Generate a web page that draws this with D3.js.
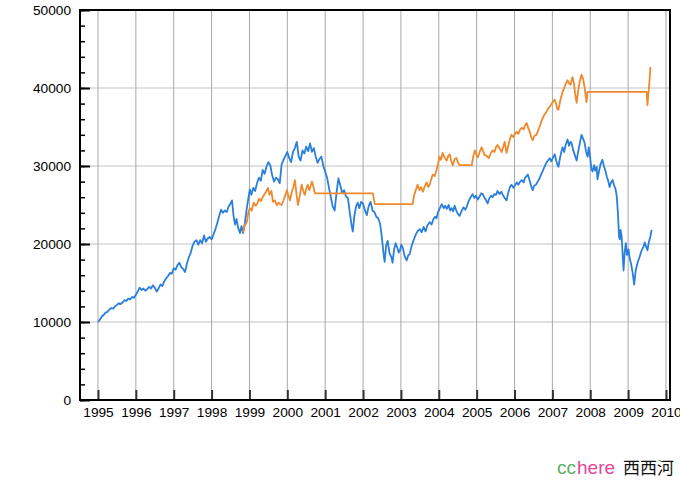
<!DOCTYPE html>
<html><head><meta charset="utf-8">
<script src="https://cdn.jsdelivr.net/npm/d3@7"></script>
<style>body{margin:0;background:#fff} svg{display:block}</style>
</head><body><svg id="c" width="680" height="480"></svg>
<script>
const yearTicks = d3.range(1995, 2011);
const valueTicks = [0, 10000, 20000, 30000, 40000, 50000];
const minorValueTicks = d3.range(0, 50001, 2000);

const blueSeries = [
[1995.00,10000],[1995.05,10300],[1995.10,10700],[1995.15,10900],[1995.20,11200],[1995.25,11300],[1995.30,11600],[1995.35,11800],[1995.40,11700],[1995.45,12000],[1995.50,12200],[1995.55,12400],[1995.60,12300],[1995.65,12500],[1995.70,12800],[1995.75,12700],[1995.80,13000],[1995.85,12900],[1995.90,13200],[1995.95,13100],
[1996.00,13500],[1996.05,13900],[1996.10,14400],[1996.15,14100],[1996.20,14300],[1996.25,14000],[1996.30,14200],[1996.35,14500],[1996.40,14300],[1996.45,14700],[1996.50,14400],[1996.55,13900],[1996.60,14300],[1996.65,14800],[1996.70,14600],[1996.75,15200],[1996.80,15600],[1996.85,15900],[1996.90,16300],[1996.95,16200],
[1997.00,16900],[1997.05,16700],[1997.10,17300],[1997.15,17600],[1997.20,17000],[1997.25,16800],[1997.30,16400],[1997.35,17500],[1997.40,18300],[1997.45,18900],[1997.50,19800],[1997.55,20300],[1997.60,20500],[1997.65,19900],[1997.70,20500],[1997.75,20100],[1997.80,21100],[1997.85,20300],[1997.90,20700],[1997.95,20900],
[1998.00,20600],[1998.05,21200],[1998.10,21900],[1998.15,22700],[1998.20,23600],[1998.25,24400],[1998.30,24000],[1998.35,24300],[1998.40,24100],[1998.45,24800],[1998.50,25200],[1998.54,25600],[1998.58,23600],[1998.62,22500],[1998.66,23200],[1998.70,22100],[1998.75,21400],[1998.79,22300],[1998.83,21400],[1998.88,22700],[1998.93,24600],[1998.97,25800],
[1999.01,27000],[1999.05,26300],[1999.10,27200],[1999.15,26800],[1999.20,27800],[1999.25,28500],[1999.30,28100],[1999.35,29500],[1999.40,29000],[1999.45,29900],[1999.50,30500],[1999.55,30100],[1999.60,28800],[1999.65,28000],[1999.70,28500],[1999.75,28300],[1999.80,27800],[1999.85,30200],[1999.90,30800],[1999.95,31300],
[2000.00,31800],[2000.05,31000],[2000.10,30500],[2000.15,31800],[2000.20,32300],[2000.25,33100],[2000.30,31200],[2000.35,30700],[2000.40,32000],[2000.45,31600],[2000.50,32500],[2000.55,31900],[2000.60,32900],[2000.65,31800],[2000.70,32300],[2000.75,31200],[2000.80,30400],[2000.85,30900],[2000.90,31200],[2000.95,30000],
[2001.00,29300],[2001.05,28500],[2001.10,27200],[2001.15,26000],[2001.20,24800],[2001.25,24300],[2001.30,26600],[2001.35,28400],[2001.40,27500],[2001.45,26500],[2001.50,26900],[2001.55,26100],[2001.60,25900],[2001.65,24000],[2001.70,22300],[2001.73,21600],[2001.77,23600],[2001.82,24900],[2001.86,25300],[2001.90,24600],[2001.95,25400],
[2002.00,25200],[2002.05,24300],[2002.10,23700],[2002.15,24900],[2002.20,25400],[2002.25,24300],[2002.30,24100],[2002.35,23500],[2002.40,23300],[2002.45,22600],[2002.50,20700],[2002.54,18800],[2002.57,17700],[2002.61,19800],[2002.65,20400],[2002.70,18800],[2002.75,18300],[2002.78,17600],[2002.82,19300],[2002.86,20100],[2002.90,19600],[2002.94,18900],[2002.97,19100],
[2003.01,19900],[2003.05,19500],[2003.10,18400],[2003.15,17900],[2003.19,18500],[2003.23,18700],[2003.28,19700],[2003.32,20300],[2003.36,20800],[2003.40,21300],[2003.45,21700],[2003.50,21900],[2003.55,21500],[2003.60,22200],[2003.65,21600],[2003.70,22400],[2003.76,22800],[2003.81,22500],[2003.86,23200],[2003.90,23500],[2003.94,23300],[2003.98,24100],
[2004.03,24600],[2004.08,25100],[2004.13,24600],[2004.17,24900],[2004.21,24500],[2004.26,25000],[2004.30,24300],[2004.34,24600],[2004.38,24200],[2004.42,24900],[2004.46,24300],[2004.50,23900],[2004.55,23600],[2004.60,24200],[2004.65,24700],[2004.70,24400],[2004.74,24800],[2004.78,25400],[2004.83,25900],[2004.89,26400],[2004.94,25900],[2004.98,26200],
[2005.03,25700],[2005.08,26100],[2005.12,26500],[2005.16,26400],[2005.21,25900],[2005.25,25600],[2005.29,25200],[2005.33,25800],[2005.38,26200],[2005.42,26000],[2005.47,26400],[2005.51,26300],[2005.55,26800],[2005.60,26400],[2005.65,26700],[2005.69,26300],[2005.74,25900],[2005.79,25600],[2005.83,26500],[2005.88,27300],[2005.92,27600],[2005.97,27200],
[2006.01,27500],[2006.06,27900],[2006.10,27600],[2006.15,28000],[2006.19,28200],[2006.24,27900],[2006.28,28500],[2006.32,28700],[2006.35,28900],[2006.39,28300],[2006.44,27400],[2006.48,26900],[2006.52,27500],[2006.57,27600],[2006.61,28000],[2006.66,28400],[2006.70,28900],[2006.74,29300],[2006.79,29900],[2006.84,30400],[2006.88,30700],[2006.93,31000],[2006.97,30600],
[2007.02,31100],[2007.06,31500],[2007.10,30700],[2007.13,30200],[2007.16,29900],[2007.20,31000],[2007.24,31900],[2007.27,32400],[2007.31,31800],[2007.35,32700],[2007.40,33400],[2007.44,32600],[2007.48,33100],[2007.51,32900],[2007.55,32000],[2007.60,31300],[2007.64,30700],[2007.68,31800],[2007.72,32800],[2007.77,34000],[2007.81,33500],[2007.85,33000],[2007.89,31800],[2007.93,31200],[2007.96,32400],
[2008.00,31000],[2008.03,29600],[2008.06,29300],[2008.10,30100],[2008.13,29400],[2008.17,29900],[2008.19,28300],[2008.23,29300],[2008.27,30200],[2008.32,30800],[2008.36,30000],[2008.40,29400],[2008.44,28600],[2008.48,28000],[2008.51,27300],[2008.55,27900],[2008.59,28200],[2008.63,27500],[2008.67,27000],[2008.70,26100],[2008.73,24000],[2008.76,21000],[2008.78,20600],[2008.80,21800],[2008.83,20900],[2008.86,18200],[2008.88,16600],[2008.91,19000],[2008.94,20100],[2008.97,18600],
[2009.01,19300],[2009.04,18200],[2009.08,17400],[2009.12,16300],[2009.16,14800],[2009.20,16600],[2009.25,17600],[2009.30,18300],[2009.35,19100],[2009.40,19600],[2009.44,20200],[2009.48,19600],[2009.51,19200],[2009.55,20300],[2009.59,21000],[2009.62,21800]
];

const orangeSeries = [
[1998.83,21500],[1998.87,22300],[1998.93,22800],[1998.97,24000],[1999.01,24600],[1999.06,24300],[1999.11,25300],[1999.16,24900],[1999.20,25100],[1999.25,25800],[1999.30,25500],[1999.35,26000],[1999.40,26400],[1999.45,26800],[1999.49,27200],[1999.53,26300],[1999.58,26800],[1999.62,25400],[1999.67,25600],[1999.72,25000],[1999.77,25300],[1999.81,25100],[1999.85,25000],[1999.90,25600],[1999.95,26300],[1999.99,26900],
[2000.03,26200],[2000.07,25600],[2000.12,26700],[2000.16,27300],[2000.20,28200],[2000.24,26500],[2000.28,25000],[2000.33,26200],[2000.38,27600],[2000.42,26800],[2000.46,26300],[2000.50,27100],[2000.54,27600],[2000.58,26900],[2000.62,27500],[2000.65,28000],[2000.69,27300],[2000.73,26500],
[2002.26,26500],[2002.31,25100],[2003.31,25100],[2003.35,26300],[2003.40,27000],[2003.44,27600],[2003.49,26900],[2003.53,27300],[2003.58,26700],[2003.63,27400],[2003.68,27900],[2003.72,27300],[2003.76,27600],[2003.80,28300],[2003.84,28900],[2003.89,28700],[2003.94,29500],[2003.98,30300],
[2004.02,31200],[2004.06,30800],[2004.10,31700],[2004.15,31100],[2004.21,30700],[2004.25,31300],[2004.29,31500],[2004.33,30600],[2004.37,30100],[2004.42,30900],[2004.47,31000],[2004.51,30400],[2004.55,30100],[2004.87,30100],[2004.91,31200],[2004.95,32000],[2004.99,31500],
[2005.03,31100],[2005.08,31800],[2005.13,32400],[2005.17,31900],[2005.21,31400],[2005.27,31300],[2005.32,31000],[2005.37,31600],[2005.42,32000],[2005.47,31800],[2005.51,32400],[2005.55,32700],[2005.60,32300],[2005.66,31800],[2005.70,32400],[2005.74,33100],[2005.79,31700],[2005.83,32500],[2005.88,33500],[2005.92,34000],[2005.97,33700],
[2006.01,34100],[2006.06,34400],[2006.10,34100],[2006.15,34700],[2006.19,34900],[2006.24,34700],[2006.28,35200],[2006.32,35500],[2006.36,34900],[2006.40,34400],[2006.44,33700],[2006.48,33300],[2006.53,33900],[2006.58,34000],[2006.62,34500],[2006.66,35000],[2006.70,35600],[2006.75,36200],[2006.79,36600],[2006.84,36900],[2006.88,37300],[2006.93,37600],[2006.97,37900],
[2007.02,38300],[2007.06,38500],[2007.10,37900],[2007.13,37300],[2007.16,37200],[2007.20,38200],[2007.24,39000],[2007.27,39500],[2007.31,40000],[2007.35,40500],[2007.40,41000],[2007.44,40600],[2007.48,40400],[2007.51,41000],[2007.53,41400],[2007.57,40600],[2007.60,39300],[2007.64,38100],[2007.68,39600],[2007.72,40800],[2007.77,41700],[2007.81,41200],[2007.85,40100],[2007.88,39000],[2007.90,38200],[2007.93,39500],
[2009.49,39500],[2009.51,37800],[2009.55,40000],[2009.59,42700]
];

const L = 80, T = 10, R = 670, B = 400;
const svg = d3.select("#c");
const x = d3.scaleLinear().domain([1994.525, 2010.106]).range([L, R]);
const y = d3.scaleLinear().domain([0, 50000]).range([B, T]);
const font = "'Liberation Sans', Arial, Helvetica, sans-serif";

// grid
svg.append("g").selectAll("line").data(valueTicks.filter(v => v > 0 && v < 50000)).join("line")
  .attr("x1", L).attr("x2", R).attr("y1", d => y(d)).attr("y2", d => y(d))
  .attr("stroke", "#c4c4c4").attr("stroke-width", 1.2);
svg.append("g").selectAll("line").data(yearTicks).join("line")
  .attr("x1", d => x(d)).attr("x2", d => x(d)).attr("y1", T).attr("y2", B)
  .attr("stroke", "#a8a8a8").attr("stroke-width", 1);

// lines
const line = d3.line().x(d => x(d[0])).y(d => y(d[1]));
svg.append("path").datum(blueSeries).attr("d", line)
  .attr("fill", "none").attr("stroke", "#2b7fdc").attr("stroke-width", 1.8).attr("stroke-linejoin", "round");
svg.append("path").datum(orangeSeries).attr("d", line)
  .attr("fill", "none").attr("stroke", "#f0882c").attr("stroke-width", 1.8).attr("stroke-linejoin", "round");

// inner ticks
const minorAx = svg.append("g").attr("transform", `translate(${L},0)`)
  .call(d3.axisRight(y).tickValues(minorValueTicks).tickSize(5).tickFormat(""));
minorAx.select(".domain").remove();
minorAx.selectAll("line").attr("stroke", "#000").attr("stroke-width", 1.5);
const majorAx = svg.append("g").attr("transform", `translate(${L},0)`)
  .call(d3.axisRight(y).tickValues(valueTicks).tickSize(10).tickFormat(""));
majorAx.select(".domain").remove();
majorAx.selectAll("line").attr("stroke", "#000").attr("stroke-width", 2);
const xTickAx = svg.append("g").attr("transform", `translate(0,${B})`)
  .call(d3.axisTop(x).tickValues(yearTicks).tickSize(10).tickFormat(""));
xTickAx.select(".domain").remove();
xTickAx.selectAll("line").attr("stroke", "#333").attr("stroke-width", 2);

// frame
svg.append("rect").attr("x", L).attr("y", T).attr("width", R - L).attr("height", B - T)
  .attr("fill", "none").attr("stroke", "#000").attr("stroke-width", 2);

// labels
const yLab = svg.append("g").attr("transform", `translate(${L},0)`)
  .call(d3.axisLeft(y).tickValues(valueTicks).tickSize(0).tickPadding(9).tickFormat(d3.format("d")));
yLab.select(".domain").remove();
yLab.selectAll("text").attr("font-family", font).attr("font-size", 13.7).attr("fill", "#000");
const xLab = svg.append("g").attr("transform", `translate(0,${B})`)
  .call(d3.axisBottom(x).tickValues(yearTicks).tickSize(0).tickPadding(7).tickFormat(d3.format("d")));
xLab.select(".domain").remove();
xLab.selectAll("text").attr("font-family", font).attr("font-size", 13.7).attr("fill", "#000");

// watermark
const wm = svg.append("text").attr("x", 557).attr("y", 474).attr("font-family", font).attr("font-size", 19);
wm.append("tspan").attr("fill", "#5caf5c").text("cc");
wm.append("tspan").attr("dx", 1).attr("fill", "#e2479a").text("here");
wm.append("tspan").attr("dx", 8).attr("fill", "#111").attr("font-family", "'Noto Sans CJK SC', sans-serif").attr("font-size", 17).text("西西河");
</script></body></html>
